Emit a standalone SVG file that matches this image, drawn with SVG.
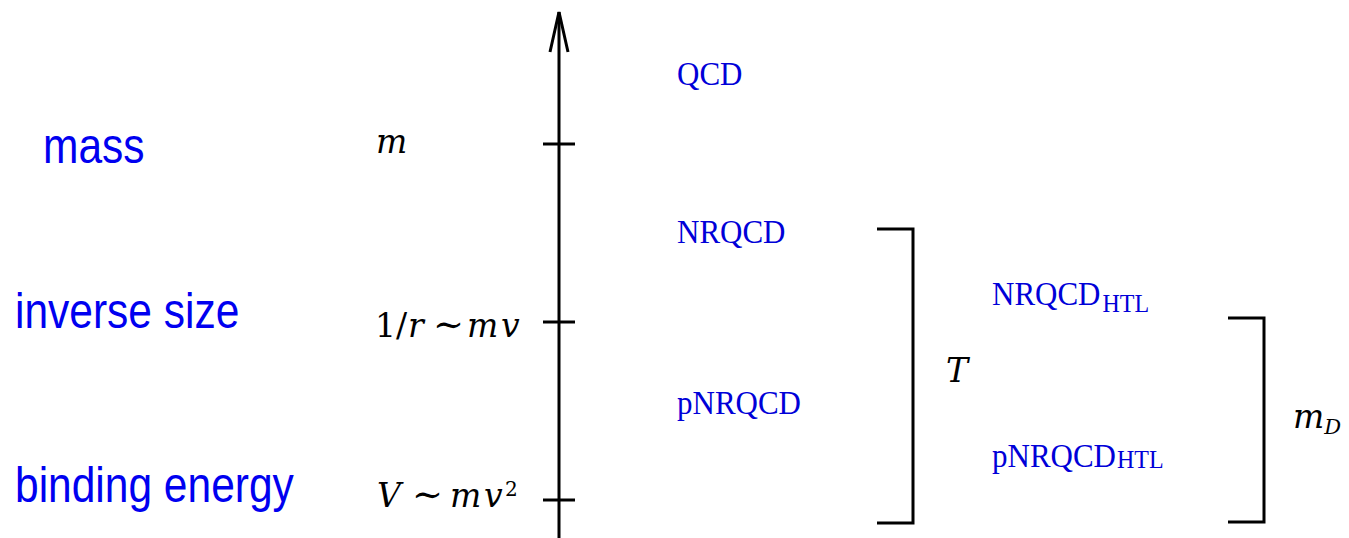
<svg xmlns="http://www.w3.org/2000/svg" width="1349" height="538" viewBox="0 0 1349 538">
<style>
.ax{stroke:#000;stroke-width:3;fill:none}
.br{stroke:#000;stroke-width:3;fill:none}
.lbl{font-family:"Liberation Sans",Arial,sans-serif;font-size:42.5px;fill:#0000f0}
.eft{font-family:"Liberation Serif","Times New Roman",serif;font-size:31px;fill:#0000d8}
.sub{font-size:24px}
.math{font-family:"DejaVu Serif","Liberation Serif",serif;font-size:33px;fill:#000}
.it{font-style:italic}
.tl{font-size:37px}
</style>
<rect width="1349" height="538" fill="#fff"/>
<g id="axis">
<line class="ax" x1="559" y1="12" x2="559" y2="538"/>
<polyline class="ax" points="550,52 559,12 568,52"/>
<line class="ax" x1="543" y1="144" x2="575" y2="144"/>
<line class="ax" x1="543" y1="322" x2="575" y2="322"/>
<line class="ax" x1="543" y1="500" x2="575" y2="500"/>
</g>
<g id="left-labels">
<text class="lbl" transform="translate(43,163) scale(1,1.17)">mass</text>
<text class="lbl" transform="translate(15,328) scale(1,1.17)">inverse size</text>
<text class="lbl" transform="translate(15,502) scale(1,1.17)">binding energy</text>
</g>
<g id="scale-labels">
<text class="math it" x="376" y="153">m</text>
<text class="math" y="337"><tspan x="375">1</tspan><tspan x="396">/</tspan><tspan class="it" x="408">r</tspan><tspan class="tl" x="433" y="337">∼</tspan><tspan class="it" x="467" y="337">m</tspan><tspan class="it" x="501">v</tspan></text>
<text class="math" y="507"><tspan class="it" x="377">V</tspan><tspan class="tl" x="412" y="507">∼</tspan><tspan class="it" x="450" y="507">m</tspan><tspan class="it" x="484">v</tspan><tspan x="505" y="496" font-size="20">2</tspan></text>
</g>
<g id="QCD"><text class="eft" transform="translate(677,85) scale(1,1.07)">QCD</text></g>
<g id="NRQCD"><text class="eft" transform="translate(677,243) scale(1,1.07)">NRQCD</text></g>
<g id="pNRQCD"><text class="eft" transform="translate(677,414) scale(1,1.07)">pNRQCD</text></g>
<g id="NRQCD_HTL"><text class="eft" transform="translate(992,305) scale(1,1.07)">NRQCD<tspan class="sub" dx="2" dy="7">HTL</tspan></text></g>
<g id="pNRQCD_HTL"><text class="eft" transform="translate(992,467) scale(1,1.07)">pNRQCD<tspan class="sub" dx="1" dy="1">HTL</tspan></text></g>
<g id="bracket-T">
<polyline class="br" points="877,229 913,229 913,523 877,523"/>
<text class="math it" x="946" y="382">T</text>
</g>
<g id="bracket-mD">
<polyline class="br" points="1228,318 1264,318 1264,522 1228,522"/>
<text class="math it" x="1293" y="428" font-size="31">m<tspan font-size="21" y="434">D</tspan></text>
</g>
</svg>
